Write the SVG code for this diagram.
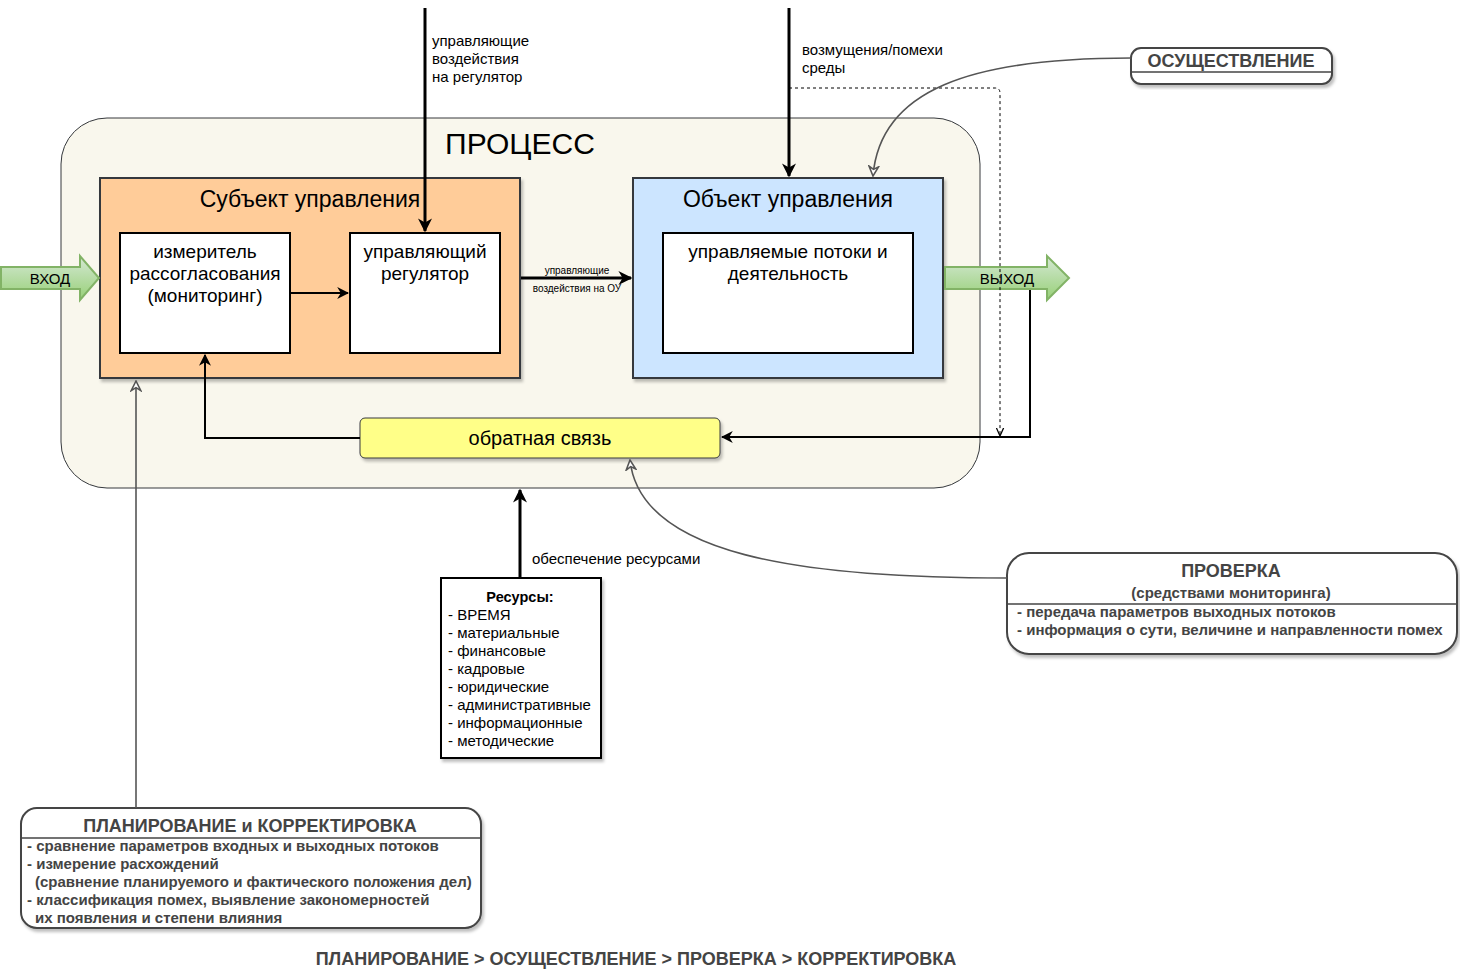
<svg xmlns="http://www.w3.org/2000/svg" width="1460" height="972" viewBox="0 0 1460 972">
<style>
text{font-family:"Liberation Sans",Arial,sans-serif;fill:#000}
.c{text-anchor:middle}
.b{font-weight:bold;fill:#444}
.frame{fill:#fff;stroke:#444;stroke-width:2}
.thin{fill:none;stroke:#000;stroke-width:2}
.thick{fill:none;stroke:#000;stroke-width:3}
.gray{fill:none;stroke:#555;stroke-width:1.6}
</style>
<defs>
<filter id="sh" x="-5%" y="-5%" width="115%" height="120%">
<feDropShadow dx="2" dy="3" stdDeviation="1.5" flood-color="#000" flood-opacity="0.25"/>
</filter>
<marker id="ab" viewBox="0 0 10 10" refX="9" refY="5" markerWidth="12" markerHeight="12" markerUnits="userSpaceOnUse" orient="auto">
<path d="M0,0 L10,5 L0,10 L3,5 z" fill="#000"/>
</marker>
<marker id="abL" viewBox="0 0 10 10" refX="9" refY="5" markerWidth="14" markerHeight="14" markerUnits="userSpaceOnUse" orient="auto">
<path d="M0,0 L10,5 L0,10 L3,5 z" fill="#000"/>
</marker>
<marker id="ag" viewBox="0 0 10 10" refX="9" refY="5" markerWidth="12" markerHeight="12" markerUnits="userSpaceOnUse" orient="auto">
<path d="M1,1 L9,5 L1,9 L3.5,5 z" fill="#fff" stroke="#555" stroke-width="1.3"/>
</marker>
<marker id="ad" viewBox="0 0 10 10" refX="9" refY="5" markerWidth="9" markerHeight="9" markerUnits="userSpaceOnUse" orient="auto">
<path d="M0,1 L9,5 L0,9" fill="none" stroke="#000" stroke-width="1.4"/>
</marker>
<linearGradient id="gg" x1="0" y1="0" x2="0" y2="1">
<stop offset="0" stop-color="#d5e8d4"/>
<stop offset="1" stop-color="#97d077"/>
</linearGradient>
</defs>

<g id="process">
<rect x="61" y="118" width="919" height="370" rx="46" fill="#f9f7ed" stroke="#36393d" stroke-width="1"/>
<text class="c" x="520" y="154" font-size="30">ПРОЦЕСС</text>
</g>

<g id="subject">
<rect x="100" y="178" width="420" height="200" fill="#ffcc99" stroke="#36393d" stroke-width="2" filter="url(#sh)"/>
<text class="c" x="310" y="207" font-size="23">Субъект управления</text>
</g>

<g id="meter">
<rect x="120" y="233" width="170" height="120" fill="#fff" stroke="#000" stroke-width="2"/>
<text class="c" x="205" y="258" font-size="19">измеритель</text>
<text class="c" x="205" y="280" font-size="19">рассогласования</text>
<text class="c" x="205" y="302" font-size="19">(мониторинг)</text>
</g>

<g id="regulator">
<rect x="350" y="233" width="150" height="120" fill="#fff" stroke="#000" stroke-width="2"/>
<text class="c" x="425" y="258" font-size="19">управляющий</text>
<text class="c" x="425" y="280" font-size="19">регулятор</text>
</g>

<g id="object">
<rect x="633" y="178" width="310" height="200" fill="#cce5ff" stroke="#36393d" stroke-width="2" filter="url(#sh)"/>
<text class="c" x="788" y="207" font-size="23">Объект управления</text>
</g>

<g id="flows">
<rect x="663" y="233" width="250" height="120" fill="#fff" stroke="#000" stroke-width="2"/>
<text class="c" x="788" y="258" font-size="19">управляемые потоки и</text>
<text class="c" x="788" y="280" font-size="19">деятельность</text>
</g>

<g id="input">
<path d="M1,267 H80 V256 L99,278 L80,300 V289 H1 Z" fill="url(#gg)" stroke="#82b366" stroke-width="2"/>
<text class="c" x="50" y="284" font-size="15">ВХОД</text>
</g>

<g id="output">
<path d="M945,267 H1047 V256 L1069,278 L1047,300 V289 H945 Z" fill="url(#gg)" stroke="#82b366" stroke-width="2"/>
<text class="c" x="1007" y="284" font-size="15">ВЫХОД</text>
</g>

<g id="feedback">
<rect x="360" y="418" width="360" height="40" rx="5" fill="#ffff88" stroke="#36393d" stroke-width="1" filter="url(#sh)"/>
<text class="c" x="540" y="445" font-size="20">обратная связь</text>
</g>

<g id="resources">
<rect x="441" y="578" width="160" height="180" fill="#fff" stroke="#000" stroke-width="2" filter="url(#sh)"/>
<text class="c" x="520" y="602" font-size="14.5" font-weight="bold">Ресурсы:</text>
<text x="448" y="620" font-size="15">- ВРЕМЯ</text>
<text x="448" y="638" font-size="15">- материальные</text>
<text x="448" y="656" font-size="15">- финансовые</text>
<text x="448" y="674" font-size="15">- кадровые</text>
<text x="448" y="692" font-size="15">- юридические</text>
<text x="448" y="710" font-size="15">- административные</text>
<text x="448" y="728" font-size="15">- информационные</text>
<text x="448" y="746" font-size="15">- методические</text>
</g>

<g id="implementation">
<rect x="1131" y="48" width="201" height="36" rx="10" class="frame" filter="url(#sh)"/>
<line x1="1131" y1="72" x2="1332" y2="72" stroke="#444" stroke-width="1.5"/>
<text class="c b" x="1231" y="67" font-size="18">ОСУЩЕСТВЛЕНИЕ</text>
</g>

<g id="check">
<rect x="1007" y="553" width="450" height="101" rx="22" class="frame" filter="url(#sh)"/>
<line x1="1007" y1="604" x2="1457" y2="604" stroke="#444" stroke-width="1.5"/>
<text class="c b" x="1231" y="577" font-size="18">ПРОВЕРКА</text>
<text class="c b" x="1231" y="598" font-size="15">(средствами мониторинга)</text>
<text class="b" x="1017" y="617" font-size="15">- передача параметров выходных потоков</text>
<text class="b" x="1017" y="635" font-size="15">- информация о сути, величине и направленности помех</text>
</g>

<g id="planning">
<rect x="21" y="808" width="460" height="120" rx="16" class="frame" filter="url(#sh)"/>
<line x1="21" y1="838" x2="481" y2="838" stroke="#444" stroke-width="1.5"/>
<text class="c b" x="250" y="832" font-size="18">ПЛАНИРОВАНИЕ и КОРРЕКТИРОВКА</text>
<text class="b" x="27" y="851" font-size="15">- сравнение параметров входных и выходных потоков</text>
<text class="b" x="27" y="869" font-size="15">- измерение расхождений</text>
<text class="b" x="35" y="887" font-size="15">(сравнение планируемого и фактического положения дел)</text>
<text class="b" x="27" y="905" font-size="15">- классификация помех, выявление закономерностей</text>
<text class="b" x="35" y="923" font-size="15">их появления и степени влияния</text>
</g>

<g id="cycle">
<text class="c b" x="636" y="965" font-size="18">ПЛАНИРОВАНИЕ &gt; ОСУЩЕСТВЛЕНИЕ &gt; ПРОВЕРКА &gt; КОРРЕКТИРОВКА</text>
</g>

<g id="connectors">
<path class="thick" d="M425,8 V231" marker-end="url(#abL)"/>
<text x="432" y="46" font-size="15">управляющие</text>
<text x="432" y="64" font-size="15">воздействия</text>
<text x="432" y="82" font-size="15">на регулятор</text>

<path class="thick" d="M789,8 V176" marker-end="url(#abL)"/>
<text x="802" y="55" font-size="15">возмущения/помехи</text>
<text x="802" y="73" font-size="15">среды</text>

<path d="M789,88 H995 Q1000,88 1000,93 V436" fill="none" stroke="#000" stroke-width="1" stroke-dasharray="3,3" marker-end="url(#ad)"/>

<path class="thin" d="M290,293 H348" marker-end="url(#ab)"/>

<path class="thick" d="M521,278 H631" marker-end="url(#abL)"/>
<text class="c" x="577" y="274" font-size="10">управляющие</text>
<text class="c" x="577" y="292" font-size="10">воздействия на ОУ</text>

<path class="thin" d="M1030,290 V437 H722" marker-end="url(#ab)"/>
<path class="thin" d="M360,438 H205 V355" marker-end="url(#ab)"/>

<path class="thick" d="M520,578 V490" marker-end="url(#abL)"/>
<text x="532" y="564" font-size="15">обеспечение ресурсами</text>

<path class="gray" d="M136,808 V381" marker-end="url(#ag)"/>
<path class="gray" d="M1131,58 C970,58 880,90 873,176" marker-end="url(#ag)"/>
<path class="gray" d="M1007,578 C800,578 640,555 630,460" marker-end="url(#ag)"/>
</g>
</svg>
